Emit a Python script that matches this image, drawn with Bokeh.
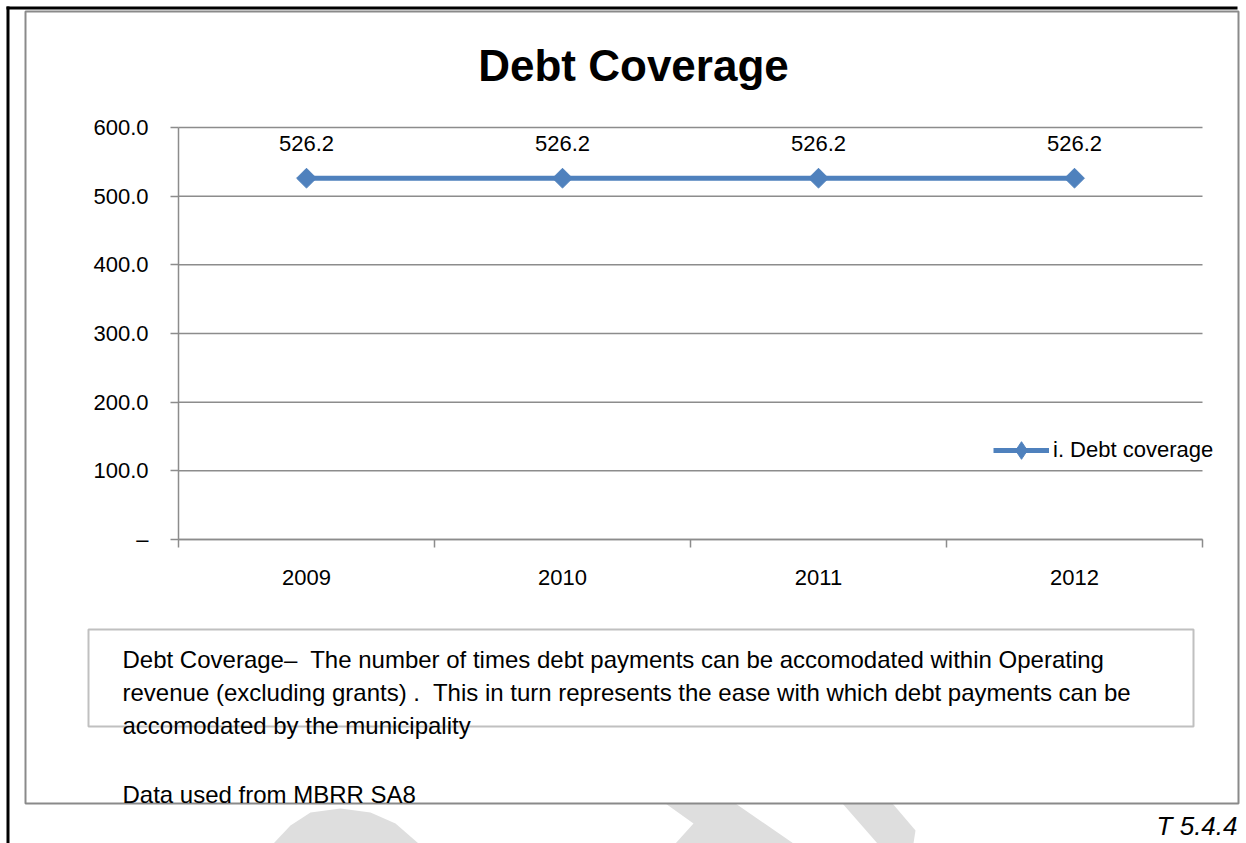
from bokeh.plotting import figure
from bokeh.models import (Range1d, FixedTicker, NumeralTickFormatter, LinearAxis,
                          LabelSet, ColumnDataSource, Legend, LegendItem)
from bokeh.core.properties import value
from bokeh.embed import file_html
from bokeh.resources import INLINE

# ---- data ----
categories = ["2009", "2010", "2011", "2012"]
debt_coverage = [526.2, 526.2, 526.2, 526.2]
value_labels = ["526.2", "526.2", "526.2", "526.2"]
y_ticks = [0, 100, 200, 300, 400, 500, 600]
y_tick_labels = ["–", "100.0", "200.0", "300.0", "400.0", "500.0", "600.0"]
series_name = "i. Debt coverage"
title_text = "Debt Coverage"
note_lines = [
    "Debt Coverage–\u00a0 The number of times debt payments can be accomodated within Operating",
    "revenue (excluding grants) .\u00a0 This in turn represents the ease with which debt payments can be",
    "accomodated by the municipality",
]
source_note = "Data used from MBRR SA8"
table_ref = "T 5.4.4"

FONT = "Liberation Sans"
BLUE = "#4F81BD"
GRID = "#8c8c8c"
WM = "#dedede"

W, H = 1246, 843
FL, FR, FT, FB = 178, 1202, 127, 539  # plot-area edges on the page (pixels)

# page coordinates for decorations: x 0..W, y 0..H (top-down)
p = figure(width=W, height=H, output_backend="svg", toolbar_location=None,
           x_range=Range1d(0, W), y_range=Range1d(H, 0),
           x_axis_location=None, y_axis_location=None, min_border=0)
p.outline_line_color = None
p.background_fill_color = "white"
p.border_fill_color = "white"
for g in p.grid:
    g.visible = False

# chart scales, placed so that the plot area sits at FL..FR, FT..FB
n = len(categories)
ymin, ymax = y_ticks[0], y_ticks[-1]
pxx = (FR - FL) / n
pxy = (FB - FT) / (ymax - ymin)
p.extra_x_ranges = {"cx": Range1d(0 - FL / pxx, n + (W - FR) / pxx)}
p.extra_y_ranges = {"cy": Range1d(ymin - (H - FB) / pxy, ymax + FT / pxy)}

# ---- page watermark (light grey shapes below the chart) ----
p.patch([273, 290, 310, 340, 370, 395, 418], [843, 825, 812, 808, 812, 823, 843],
        fill_color=WM, line_color=None)
p.patch([665, 735, 793, 675, 693], [803, 803, 843, 843, 823], fill_color=WM, line_color=None)
p.patch([842, 892, 915, 913, 877], [803, 803, 830, 843, 843], fill_color=WM, line_color=None)

# page rules: black top and left
p.quad(left=[6, 6], right=[1237, 9], top=[6, 6], bottom=[9, 843],
       fill_color="black", line_color=None)
# chart border
p.quad(left=[25], right=[1238], top=[11], bottom=[803], fill_color="white",
       line_color="#8a8a8a", line_width=2)

# ---- chart ----
x_pos = [i + 0.5 for i in range(n)]
src = ColumnDataSource(dict(x=x_pos, y=debt_coverage, lab=value_labels))

# horizontal gridlines
p.segment(x0=0, x1=n, y0=y_ticks, y1=y_ticks, line_color=GRID, line_width=1.5,
          x_range_name="cx", y_range_name="cy")

yax = LinearAxis(x_range_name="cx", y_range_name="cy", fixed_location=0, bounds=(ymin, ymax))
yax.ticker = FixedTicker(ticks=y_ticks)
yax.formatter = NumeralTickFormatter(format="0.0")
yax.major_label_overrides = {t: l for t, l in zip(y_ticks, y_tick_labels)}
yax.major_tick_out = 8
yax.major_tick_in = 0
yax.major_tick_line_color = GRID
yax.major_tick_line_width = 1.5
yax.minor_tick_line_color = None
yax.axis_line_color = GRID
yax.axis_line_width = 1.5
yax.major_label_text_font = FONT
yax.major_label_text_font_size = "22px"
yax.major_label_text_color = "black"
yax.major_label_standoff = 22
p.add_layout(yax, "left")

xax = LinearAxis(x_range_name="cx", y_range_name="cy", fixed_location=ymin, bounds=(0, n))
xax.ticker = FixedTicker(ticks=x_pos, minor_ticks=list(range(n + 1)))
xax.major_label_overrides = {x: c for x, c in zip(x_pos, categories)}
xax.major_tick_line_color = None
xax.minor_tick_out = 8
xax.minor_tick_in = 0
xax.minor_tick_line_color = GRID
xax.minor_tick_line_width = 1.5
xax.axis_line_color = GRID
xax.axis_line_width = 1.5
xax.major_label_text_font = FONT
xax.major_label_text_font_size = "22px"
xax.major_label_text_color = "black"
xax.major_label_standoff = 22
p.add_layout(xax, "below")

ln = p.line("x", "y", source=src, line_color=BLUE, line_width=5,
            x_range_name="cx", y_range_name="cy")
dm = p.scatter("x", "y", source=src, marker="diamond", size=14,
               fill_color=BLUE, line_color=BLUE, x_range_name="cx", y_range_name="cy")
mk = p.scatter("x", "y", source=src, marker="square", angle=0.785398, size=14,
               fill_color=BLUE, line_color=BLUE, x_range_name="cx", y_range_name="cy")
p.add_layout(LabelSet(x="x", y="y", text="lab", source=src, y_offset=35,
                      x_range_name="cx", y_range_name="cy",
                      text_align="center", text_baseline="middle",
                      text_font=value(FONT), text_font_size="22px", text_color="black"))

legend = Legend(items=[LegendItem(label=series_name, renderers=[ln, dm])],
                location=(993, H - 472), glyph_width=56, glyph_height=44,
                label_height=24, label_standoff=4, padding=0, margin=0, spacing=0,
                border_line_color=None, background_fill_alpha=0,
                label_text_font=FONT, label_text_font_size="22px", label_text_color="black")
p.add_layout(legend)

# ---- texts around the chart ----
p.text(x=[633], y=[65], text=[title_text], text_align="center", text_baseline="middle",
       text_font=value(FONT), text_font_size="44px", text_font_style="bold", text_color="black")

# note box
p.quad(left=[88], right=[1193], top=[629], bottom=[726], fill_alpha=0,
       line_color="#c0c0c0", line_width=2)
p.text(x=[122] * len(note_lines), y=[659 + 33 * i for i in range(len(note_lines))],
       text=note_lines, text_align="left", text_baseline="middle",
       text_font=value(FONT), text_font_size="24px", text_color="black")
p.text(x=[122], y=[794], text=[source_note], text_align="left", text_baseline="middle",
       text_font=value(FONT), text_font_size="24px", text_color="black")
p.text(x=[1237], y=[825], text=[table_ref], text_align="right", text_baseline="middle",
       text_font=value(FONT), text_font_size="26px", text_font_style="italic", text_color="black")

open("out.html", "w").write(file_html(p, INLINE))
